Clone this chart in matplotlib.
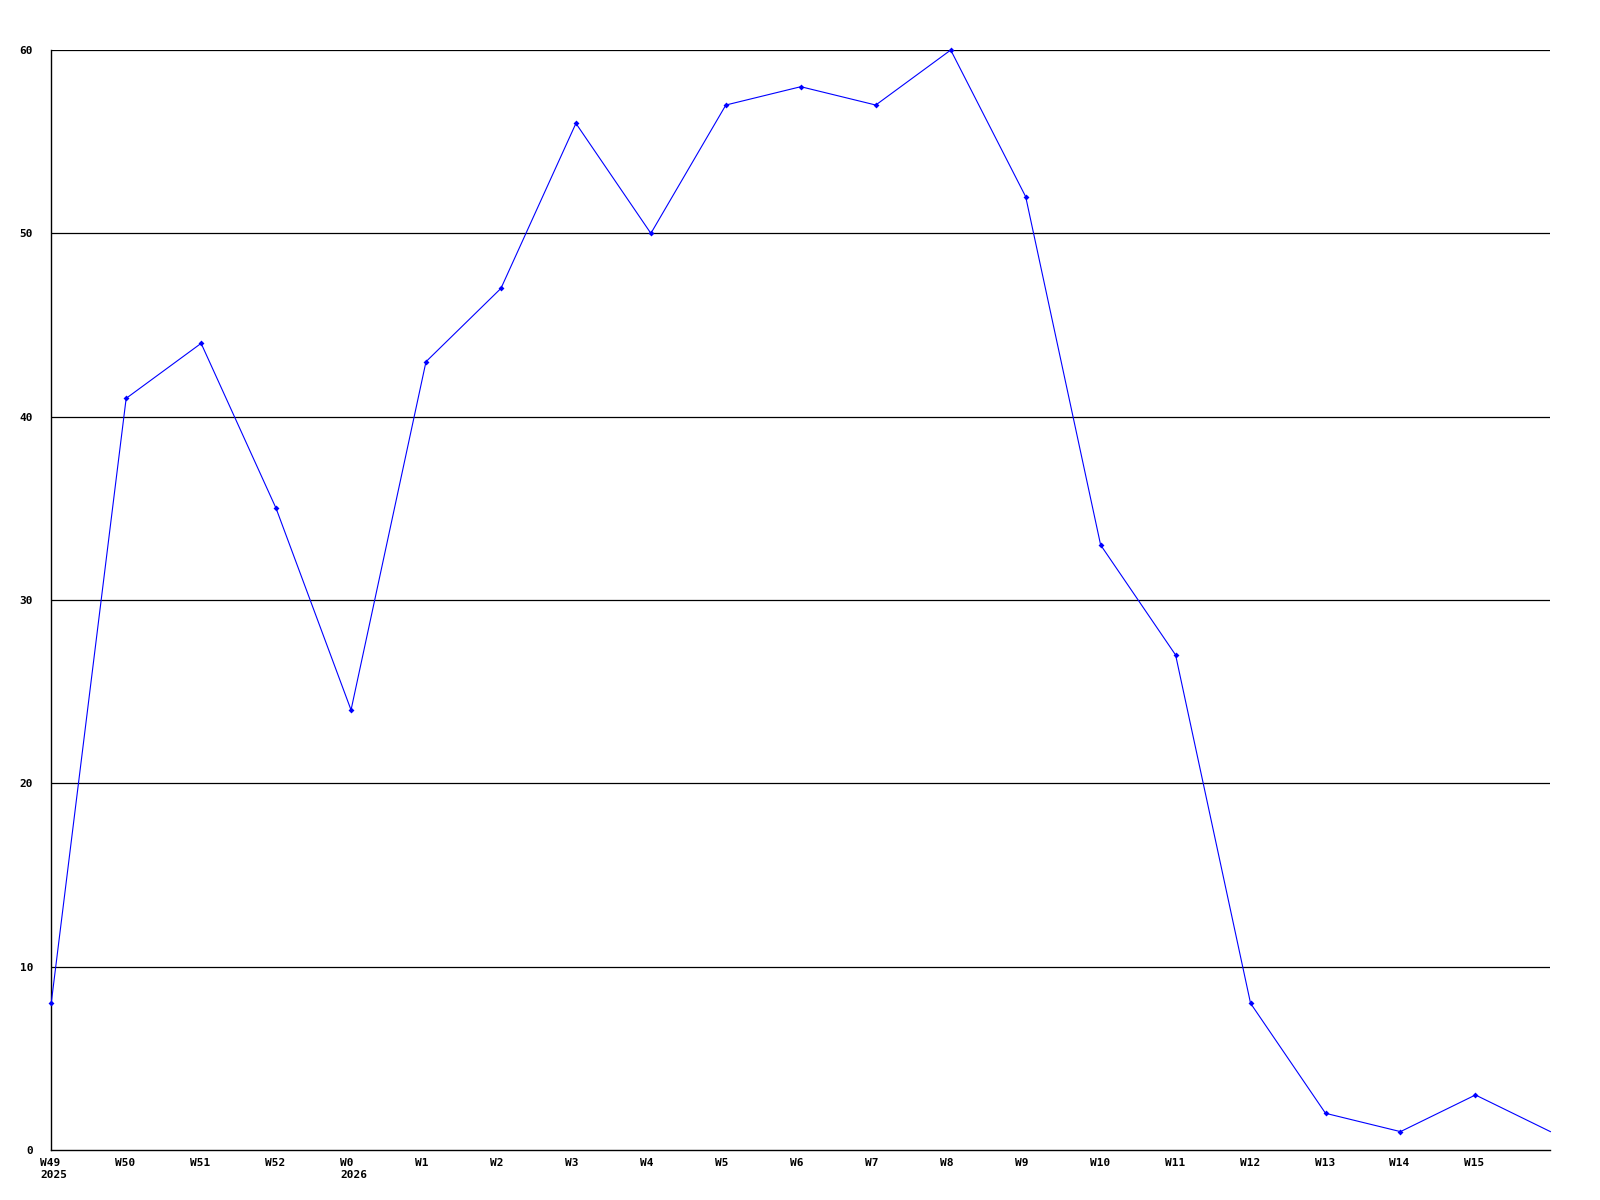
import matplotlib
matplotlib.use("Agg")
import matplotlib.pyplot as plt
import matplotlib.transforms as mtransforms

weeks = ["W49\n2025", "W50", "W51", "W52", "W0\n2026", "W1", "W2", "W3", "W4", "W5",
         "W6", "W7", "W8", "W9", "W10", "W11", "W12", "W13", "W14", "W15", ""]
values = [8, 41, 44, 35, 24, 43, 47, 56, 50, 57, 58, 57, 60, 52, 33, 27, 8, 2, 1, 3, 1]
yticks = [0, 10, 20, 30, 40, 50, 60]

fig = plt.figure(figsize=(16, 12), dpi=100)
ax = fig.add_axes([0.032, 0.0417, 0.937, 0.9166])
x = list(range(len(values)))
ax.plot(x, values, color="#0000ff", linewidth=0.8, marker="D", markersize=3,
        markeredgewidth=0, markevery=list(range(len(values) - 1)),
        zorder=3, clip_on=False)
ax.set_xlim(0, len(values) - 1)
ax.set_ylim(0, 60)
for y in yticks[1:]:
    ax.axhline(y, color="black", linewidth=0.9, zorder=1)
ax.set_yticks(yticks)
ax.set_yticklabels([str(v) for v in yticks])
ax.set_xticks(x[:-1])
ax.set_xticklabels(weeks[:-1], ha="left", multialignment="left")
ax.tick_params(axis="both", length=0, labelsize=8)
ax.tick_params(axis="y", pad=13)
ax.tick_params(axis="x", pad=6)
for lab in ax.get_xticklabels() + ax.get_yticklabels():
    lab.set_fontfamily("DejaVu Sans Mono")
    lab.set_fontweight("bold")
offset = mtransforms.ScaledTranslation(-11 / 100, 0, fig.dpi_scale_trans)
for lab in ax.get_xticklabels():
    lab.set_transform(lab.get_transform() + offset)
ax.spines["top"].set_visible(False)
ax.spines["right"].set_visible(False)
ax.spines["left"].set_linewidth(1.0)
ax.spines["bottom"].set_linewidth(1.0)
fig.savefig("out.png", dpi=100, facecolor="white")
